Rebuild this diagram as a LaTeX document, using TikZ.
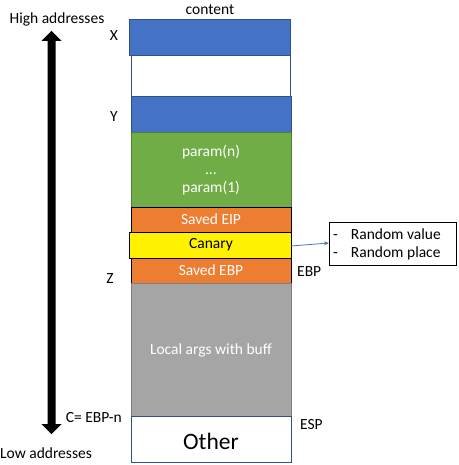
\documentclass[tikz,border=0pt]{standalone}
\usepackage{fontspec}
\setmainfont{Carlito}
\usetikzlibrary{arrows.meta}
\definecolor{cblue}{HTML}{4472C4}
\definecolor{cblueb}{HTML}{2F528F}
\definecolor{cgreen}{HTML}{70AD47}
\definecolor{cgreenb}{HTML}{507E32}
\definecolor{corange}{HTML}{ED7D31}
\definecolor{cgray}{HTML}{A5A5A5}
\definecolor{cgrayb}{HTML}{7F7F7F}
\tikzset{
  txt/.style={font=\fontsize{15.5bp}{17bp}\selectfont, inner sep=0pt},
  wtxt/.style={txt, text=white},
  blk/.style={line width=0.8bp},
}
\begin{document}
\begin{tikzpicture}[x=1bp,y=-1bp]
\useasboundingbox (0,0) rectangle (459,465);
% blocks
\filldraw[blk, fill=cblue, draw=cblueb] (129,19) rectangle (290,55);
\draw[blk, draw=cblueb, fill=white] (131,55) rectangle (290,96);
\filldraw[blk, fill=cblue, draw=cblueb] (131,96) rectangle (291,132);
\filldraw[blk, fill=cgreen, draw=cgreenb] (131,132) rectangle (291,207);
\filldraw[blk, fill=corange, draw=black] (131,207) rectangle (291,232);
\filldraw[blk, fill=corange, draw=black] (131,258) rectangle (291,283);
\filldraw[blk, fill=yellow, draw=black] (129,232) rectangle (291,258);
\filldraw[blk, fill=cgray, draw=cgrayb] (131,283) rectangle (291,416);
\draw[blk, draw=cblueb, fill=white] (131,416) rectangle (291,462);
% block texts
\node[txt] (content) at (210,10) {content};
\node[wtxt, align=center] (param) at (211,170) {param(n)\\[1bp]…\\[1bp]param(1)};
\node[wtxt] (eip) at (211,219.5) {Saved EIP};
\node[txt] (canary) at (211,245) {Canary};
\node[wtxt] (ebp) at (211,270.5) {Saved EBP};
\node[wtxt] (local) at (211,350) {Local args with buff};
\node[txt, font=\fontsize{23.5bp}{26bp}\selectfont] (other) at (211,441) {Other};
% side labels
\node[txt] (hi) at (57,19) {High addresses};
\node[txt] (lo) at (46,453) {Low addresses};
\node[txt] (X) at (114,36) {X};
\node[txt] (Y) at (114,117) {Y};
\node[txt] (Z) at (110,279) {Z};
\node[txt, anchor=east] (C) at (122,418) {C= EBP-n};
\node[txt, anchor=west] (EBPl) at (297,272) {EBP};
\node[txt, anchor=west] (ESPl) at (300,425) {ESP};
% note box
\draw[line width=0.8bp] (329,222) rectangle (456,265);
\node[txt, anchor=west] (n1) at (333,234) {-\hspace{13bp}Random value};
\node[txt, anchor=west] (n2) at (333,253) {-\hspace{13bp}Random place};
\coordinate (boxl) at (329,243);
\coordinate (canr) at (291,246);
\draw[cblue, line width=0.8bp, -{Stealth[length=5bp,width=4bp]}] (canr) -- (boxl);
% big double arrow
\fill[black] (51.5,31) -- (61.5,41) -- (55.5,41) -- (55.5,424) -- (61.5,424) -- (51.5,434) -- (41.5,424) -- (47.5,424) -- (47.5,41) -- (41.5,41) -- cycle;
\end{tikzpicture}
\end{document}
